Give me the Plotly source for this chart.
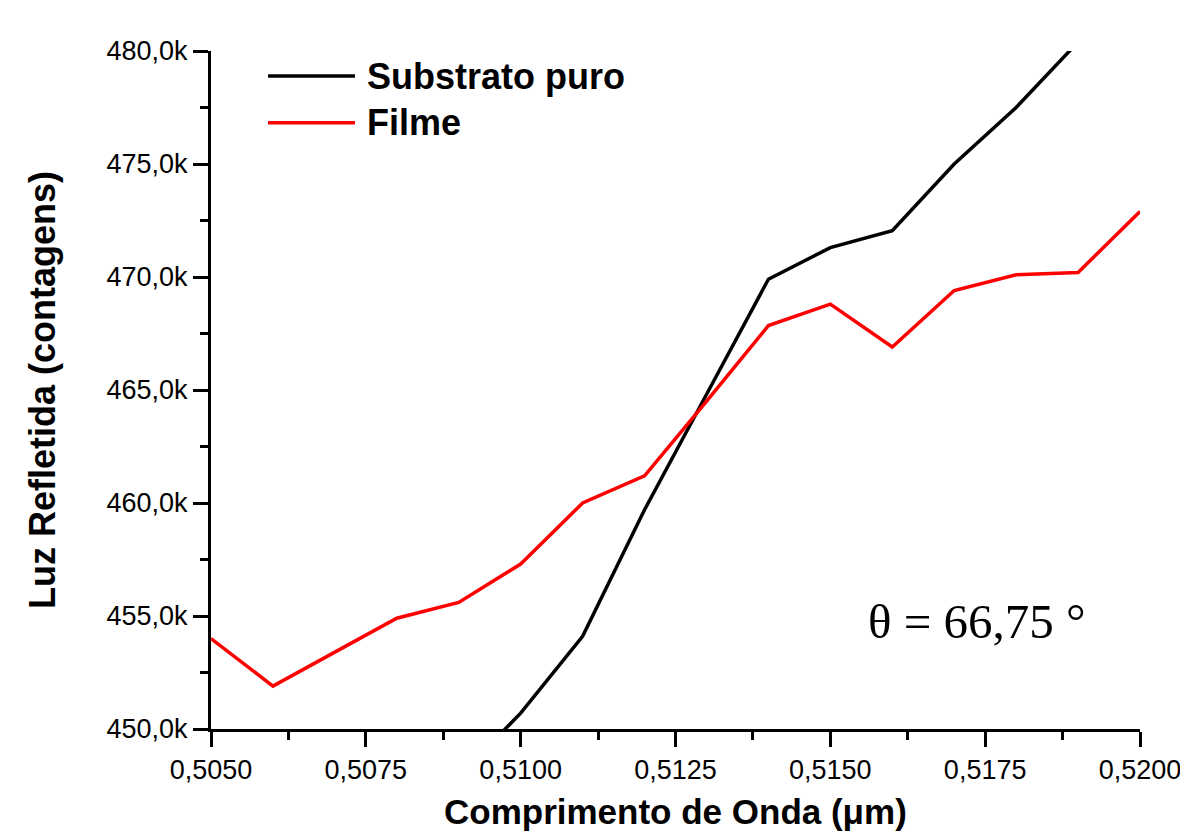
import plotly.graph_objects as go

# Data (wavelength in micrometres, reflected light in counts)
wavelength_sub = [0.509, 0.510, 0.511, 0.512, 0.513, 0.514, 0.515, 0.516, 0.517, 0.518, 0.519, 0.520]
substrato = [447900, 450700, 454100, 459700, 464800, 469900, 471300, 472050, 475000, 477500, 480400, 482800]

wavelength_film = [0.505, 0.506, 0.507, 0.508, 0.509, 0.510, 0.511, 0.512, 0.513, 0.514, 0.515, 0.516, 0.517, 0.518, 0.519, 0.520]
filme = [454000, 451900, 453400, 454900, 455600, 457300, 460000, 461200, 464500, 467850, 468800, 466900, 469400, 470100, 470200, 472900]

x_tickvals = [0.505, 0.5075, 0.510, 0.5125, 0.515, 0.5175, 0.520]
x_ticktext = ["0,5050", "0,5075", "0,5100", "0,5125", "0,5150", "0,5175", "0,5200"]
y_tickvals = [450000, 455000, 460000, 465000, 470000, 475000, 480000]
y_ticktext = ["450,0k", "455,0k", "460,0k", "465,0k", "470,0k", "475,0k", "480,0k"]

series_names = ["Substrato puro", "Filme"]
series_colors = ["#000000", "#ff0000"]

fig = go.Figure()
fig.add_trace(go.Scatter(x=wavelength_sub, y=substrato, mode="lines", name=series_names[0],
                         line=dict(color=series_colors[0], width=3.5), showlegend=False))
fig.add_trace(go.Scatter(x=wavelength_film, y=filme, mode="lines", name=series_names[1],
                         line=dict(color=series_colors[1], width=3.5), showlegend=False))

axis_font = dict(family="Liberation Sans, Arial, sans-serif", size=27, color="black")

fig.update_layout(
    width=1180, height=832,
    margin=dict(l=211, r=40, t=51, b=103),
    plot_bgcolor="white", paper_bgcolor="white",
    xaxis=dict(
        range=[0.505, 0.520], showgrid=False, zeroline=False, automargin=False,
        showline=True, linecolor="black", linewidth=3,
        ticks="outside", ticklen=15, tickwidth=3, tickcolor="black",
        tickvals=x_tickvals, ticktext=x_ticktext, tickfont=axis_font,
        ticklabeloverflow="allow",
        minor=dict(ticks="outside", ticklen=8, tickwidth=3, tickcolor="black", dtick=0.00125, tick0=0.505),
    ),
    yaxis=dict(
        range=[450000, 480000], showgrid=False, zeroline=False, automargin=False,
        showline=True, linecolor="black", linewidth=3,
        ticks="outside", ticklen=15, tickwidth=3, tickcolor="black",
        tickvals=y_tickvals, ticktext=y_ticktext, tickfont=axis_font,
        ticklabeloverflow="allow",
        minor=dict(ticks="outside", ticklen=8, tickwidth=3, tickcolor="black", dtick=2500, tick0=450000),
        title=dict(text="<b>Luz Refletida (contagens)</b>",
                   font=dict(family="Liberation Sans, Arial, sans-serif", size=36, color="black"), standoff=40),
    ),
)

# x axis title (sits at the bottom edge, as in the reference)
fig.add_annotation(xref="paper", yref="paper", x=0.5, y=-0.122, text="<b>Comprimento de Onda (μm)</b>",
                   showarrow=False, xanchor="center", yanchor="middle",
                   font=dict(family="Liberation Sans, Arial, sans-serif", size=35, color="black"))

# Manual legend
legend_y = [0.963, 0.894]
for name, color, ly in zip(series_names, series_colors, legend_y):
    fig.add_shape(type="line", xref="paper", yref="paper", x0=0.0614, x1=0.155, y0=ly, y1=ly,
                  line=dict(color=color, width=3.5))
    fig.add_annotation(xref="paper", yref="paper", x=0.166, y=ly, text="<b>" + name + "</b>",
                       showarrow=False, xanchor="left", yanchor="middle",
                       font=dict(family="Liberation Sans, Arial, sans-serif", size=36, color="black"))

fig.add_annotation(xref="paper", yref="paper", x=0.705, y=0.158, text="θ = 66,75 °",
                   showarrow=False, xanchor="left", yanchor="middle",
                   font=dict(family="Liberation Serif, Times New Roman, serif", size=49, color="black"))

# remove the default page margin so the figure fills the window exactly
fig.write_html("out.html", config={"displayModeBar": False},
               post_script="document.body.style.margin='0';document.body.style.overflow='hidden';")
